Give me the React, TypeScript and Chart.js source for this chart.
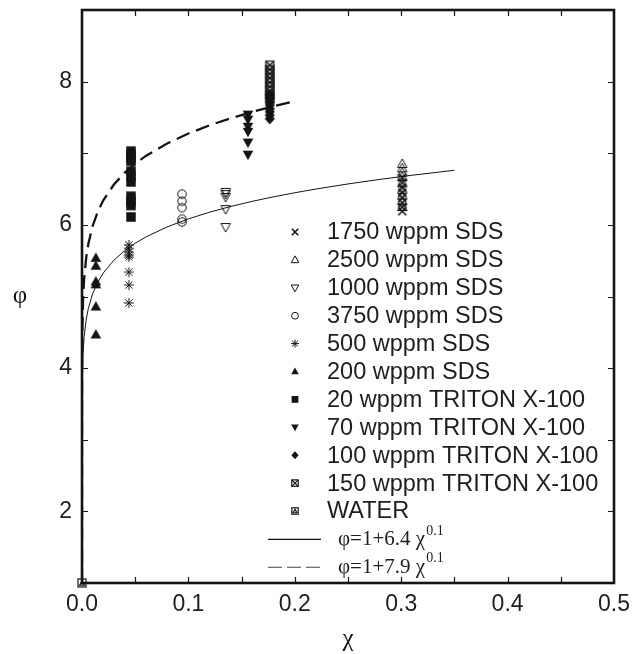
import React, { useEffect, useRef } from 'react';
import { Chart, registerables } from 'chart.js';

Chart.register(...registerables);

// ---- data ----
const CHI_1750 = 0.301;
const PHI_1750 = [6.66, 6.59, 6.52, 6.45, 6.38, 6.31, 6.25, 6.19];
const CHI_2500 = 0.301;
const PHI_2500 = [6.85, 6.79, 6.73, 6.67, 6.58, 6.49, 6.41, 6.33, 6.25];
const CHI_1000 = 0.135;
const PHI_1000 = [6.46, 6.43, 6.39, 6.22, 5.97];
const CHI_3750 = 0.094;
const PHI_3750 = [6.43, 6.33, 6.24, 6.08, 6.04];
const CHI_500 = 0.044;
const PHI_500 = [5.72, 5.67, 5.62, 5.58, 5.55, 5.34, 5.16, 4.91];
const CHI_200 = 0.013;
const PHI_200 = [5.54, 5.43, 5.21, 5.17, 4.86, 4.47];
const CHI_T20 = 0.046;
const PHI_T20 = [7.03, 6.98, 6.93, 6.89, 6.75, 6.68, 6.6, 6.4, 6.33, 6.27, 6.11];
const CHI_T70 = 0.156;
const PHI_T70 = [7.54, 7.47, 7.37, 7.3, 7.15, 6.98];
const CHI_T100 = 0.1765;
const PHI_T100 = [7.82, 7.77, 7.72, 7.67, 7.62, 7.58, 7.53, 7.48];
const CHI_T150 = 0.1765;
const PHI_T150 = [8.23, 8.17, 8.11, 8.05, 7.99, 7.93, 7.87, 7.81, 7.75];
const CHI_WATER = [0];
const PHI_WATER = [1.0];

// fitted curves phi = 1 + a * chi^0.1 (as printed in the legend)
const FIT_EXP = 0.1;
const FIT_A_SDS = 6.4;
const FIT_A_TRITON = 7.9;
const CHI_GRID_SDS = [0, 1e-10, 1e-8, 1e-6, 1e-5, 5e-5, 1e-4, 3e-4, 1e-3, 2e-3, 4e-3, 6e-3, 0.01, 0.015, 0.02, 0.03, 0.04, 0.05, 0.06, 0.08, 0.1, 0.12, 0.14, 0.16, 0.18, 0.2, 0.22, 0.25, 0.28, 0.31, 0.35];
const CHI_GRID_TRITON = [0, 1e-10, 1e-8, 1e-6, 1e-5, 5e-5, 1e-4, 3e-4, 1e-3, 2e-3, 4e-3, 6e-3, 0.01, 0.015, 0.02, 0.03, 0.04, 0.05, 0.06, 0.08, 0.1, 0.12, 0.14, 0.16, 0.18, 0.2];

const LEGEND_LABELS = [
  '1750 wppm SDS',
  '2500 wppm SDS',
  '1000 wppm SDS',
  '3750 wppm SDS',
  '500 wppm SDS',
  '200 wppm SDS',
  '20 wppm TRITON X-100',
  '70 wppm TRITON X-100',
  '100 wppm TRITON X-100',
  '150 wppm TRITON X-100',
  'WATER',
];
const LEGEND_MARKERS = ['cross', 'triUp', 'triDown', 'circle', 'star', 'triUpFill', 'square', 'triDownFill', 'diamond', 'boxX', 'water'];
const FIT_LABELS = [
  { lead: 'φ=1+6.4 χ', sup: '0.1' },
  { lead: 'φ=1+7.9 χ', sup: '0.1' },
];

const X_TICKS_MINOR = [0.05, 0.1, 0.15, 0.2, 0.25, 0.3, 0.35, 0.4, 0.45];
const Y_TICKS_MINOR = [2, 3, 4, 5, 6, 7, 8];

const INK = '#141414';

function drawShape(ctx: CanvasRenderingContext2D, type: string, r: number) {
  ctx.strokeStyle = INK;
  ctx.fillStyle = INK;
  ctx.lineWidth = 1;
  ctx.beginPath();
  switch (type) {
    case 'cross': {
      const a = r * 0.8;
      ctx.lineWidth = 1.6;
      ctx.moveTo(-a, -a); ctx.lineTo(a, a);
      ctx.moveTo(-a, a); ctx.lineTo(a, -a);
      ctx.stroke();
      break;
    }
    case 'triUp':
    case 'triUpFill': {
      ctx.moveTo(0, -r); ctx.lineTo(r * 0.95, r * 0.7); ctx.lineTo(-r * 0.95, r * 0.7); ctx.closePath();
      if (type === 'triUpFill') ctx.fill(); else ctx.stroke();
      break;
    }
    case 'triDown':
    case 'triDownFill': {
      ctx.moveTo(0, r); ctx.lineTo(r * 0.95, -r * 0.7); ctx.lineTo(-r * 0.95, -r * 0.7); ctx.closePath();
      if (type === 'triDownFill') ctx.fill(); else ctx.stroke();
      break;
    }
    case 'circle': {
      ctx.arc(0, 0, r * 0.85, 0, Math.PI * 2);
      ctx.stroke();
      break;
    }
    case 'star': {
      const d = r * 0.72;
      ctx.moveTo(0, -r); ctx.lineTo(0, r);
      ctx.moveTo(-r, 0); ctx.lineTo(r, 0);
      ctx.moveTo(-d, -d); ctx.lineTo(d, d);
      ctx.moveTo(-d, d); ctx.lineTo(d, -d);
      ctx.stroke();
      break;
    }
    case 'square': {
      const a = r * 0.85;
      ctx.fillRect(-a, -a, 2 * a, 2 * a);
      break;
    }
    case 'diamond': {
      ctx.moveTo(0, -r); ctx.lineTo(r * 0.9, 0); ctx.lineTo(0, r); ctx.lineTo(-r * 0.9, 0); ctx.closePath();
      ctx.fill();
      break;
    }
    case 'boxX': {
      const a = r * 0.8;
      ctx.lineWidth = 1.2;
      ctx.strokeRect(-a, -a, 2 * a, 2 * a);
      ctx.moveTo(-a, -a); ctx.lineTo(a, a);
      ctx.moveTo(-a, a); ctx.lineTo(a, -a);
      ctx.stroke();
      break;
    }
    case 'water': {
      const a = r * 0.8;
      ctx.lineWidth = 1.2;
      ctx.strokeRect(-a, -a, 2 * a, 2 * a);
      ctx.beginPath();
      ctx.moveTo(-a * 0.6, a * 0.55); ctx.lineTo(0, -a * 0.55); ctx.lineTo(a * 0.6, a * 0.55); ctx.closePath();
      ctx.stroke();
      break;
    }
  }
}

function makeMarker(type: string, r: number): HTMLCanvasElement {
  const s = Math.ceil(2 * r + 4);
  const c = document.createElement('canvas');
  c.width = s;
  c.height = s;
  const ctx = c.getContext('2d') as CanvasRenderingContext2D;
  ctx.translate(s / 2, s / 2);
  drawShape(ctx, type, r);
  return c;
}

const framePlugin = {
  id: 'frameTicks',
  beforeDatasetsDraw(chart: any) {
    const { ctx, chartArea: a, scales } = chart;
    const xs = scales.x;
    const ys = scales.y;
    ctx.save();
    ctx.strokeStyle = INK;
    ctx.lineWidth = 1.2;
    const tl = 6;
    ctx.beginPath();
    for (const v of X_TICKS_MINOR) {
      const px = Math.round(xs.getPixelForValue(v)) + 0.5;
      ctx.moveTo(px, a.bottom); ctx.lineTo(px, a.bottom - tl);
      ctx.moveTo(px, a.top); ctx.lineTo(px, a.top + tl);
    }
    for (const v of Y_TICKS_MINOR) {
      const py = Math.round(ys.getPixelForValue(v)) + 0.5;
      ctx.moveTo(a.left, py); ctx.lineTo(a.left + tl, py);
      ctx.moveTo(a.right, py); ctx.lineTo(a.right - tl, py);
    }
    ctx.stroke();
    ctx.lineWidth = 2.6;
    ctx.strokeRect(a.left, a.top, a.right - a.left, a.bottom - a.top);
    ctx.restore();
  },
  afterDraw(chart: any) {
    const { ctx, chartArea: a } = chart;
    ctx.save();
    // axis titles
    ctx.fillStyle = INK;
    ctx.font = '25px "Liberation Serif", "DejaVu Serif", serif';
    ctx.textAlign = 'center';
    ctx.textBaseline = 'middle';
    ctx.fillText('φ', 20, (a.top + a.bottom) / 2);
    ctx.fillText('χ', (a.left + a.right) / 2, 639);

    // legend
    const symX = 295;
    const textX = 327;
    const y0 = 232;
    const dy = 27.9;
    ctx.textAlign = 'left';
    ctx.font = '23.5px "Liberation Sans", Arial, sans-serif';
    LEGEND_LABELS.forEach((lab, i) => {
      const y = y0 + i * dy;
      ctx.save();
      ctx.translate(symX, y);
      drawShape(ctx, LEGEND_MARKERS[i], 4);
      ctx.restore();
      ctx.fillStyle = '#1e1e1e';
      ctx.fillText(lab, textX, y + 1);
    });
    FIT_LABELS.forEach((f, j) => {
      const y = y0 + (LEGEND_LABELS.length + j) * dy;
      ctx.save();
      ctx.strokeStyle = j === 0 ? INK : '#444';
      ctx.lineWidth = 1.1;
      if (j === 1) ctx.setLineDash([14, 5]);
      ctx.beginPath();
      ctx.moveTo(268, y + 0.5); ctx.lineTo(321, y + 0.5);
      ctx.stroke();
      ctx.restore();
      ctx.fillStyle = '#1e1e1e';
      ctx.font = '21px "Liberation Serif", "DejaVu Serif", serif';
      ctx.fillText(f.lead, 338, y + 1);
      const w = ctx.measureText(f.lead).width;
      ctx.font = '14px "Liberation Serif", "DejaVu Serif", serif';
      ctx.fillText(f.sup, 338 + w + 1, y - 8);
    });
    ctx.restore();
  },
};

function seriesPoints(chi: number, phis: number[]) {
  return phis.map((p) => ({ x: chi, y: p }));
}

export default function App() {
  const ref = useRef<HTMLCanvasElement | null>(null);
  useEffect(() => {
    if (!ref.current) return;
    const R = 5;
    const RF = 5.6;
    const mk = (t: string, r = R) => makeMarker(t, r);
    const pt = (label: string, data: any[], style: any) => ({
      type: 'scatter' as const,
      label,
      data,
      pointStyle: style,
      pointRadius: R,
      showLine: false,
      clip: false as any,
    });
    const fit = (a: number, grid: number[]) => grid.map((c) => ({ x: c, y: 1 + a * Math.pow(c, FIT_EXP) }));
    const chart = new Chart(ref.current, {
      type: 'scatter',
      data: {
        datasets: [
          {
            type: 'scatter' as const,
            label: 'fit SDS',
            data: fit(FIT_A_SDS, CHI_GRID_SDS),
            showLine: true,
            pointRadius: 0,
            borderColor: INK,
            borderWidth: 1,
            tension: 0,
          } as any,
          {
            type: 'scatter' as const,
            label: 'fit TRITON',
            data: fit(FIT_A_TRITON, CHI_GRID_TRITON),
            showLine: true,
            pointRadius: 0,
            borderColor: INK,
            borderWidth: 2.3,
            borderDash: [14, 7],
            tension: 0,
          } as any,
          pt(LEGEND_LABELS[0], seriesPoints(CHI_1750, PHI_1750), mk('cross')),
          pt(LEGEND_LABELS[1], seriesPoints(CHI_2500, PHI_2500), mk('triUp')),
          pt(LEGEND_LABELS[2], seriesPoints(CHI_1000, PHI_1000), mk('triDown')),
          pt(LEGEND_LABELS[3], seriesPoints(CHI_3750, PHI_3750), mk('circle')),
          pt(LEGEND_LABELS[4], seriesPoints(CHI_500, PHI_500), mk('star')),
          pt(LEGEND_LABELS[5], seriesPoints(CHI_200, PHI_200), mk('triUpFill', RF)),
          pt(LEGEND_LABELS[6], seriesPoints(CHI_T20, PHI_T20), mk('square', RF)),
          pt(LEGEND_LABELS[7], seriesPoints(CHI_T70, PHI_T70), mk('triDownFill', RF)),
          pt(LEGEND_LABELS[8], seriesPoints(CHI_T100, PHI_T100), mk('diamond', RF)),
          pt(LEGEND_LABELS[9], seriesPoints(CHI_T150, PHI_T150), mk('boxX')),
          pt(LEGEND_LABELS[10], CHI_WATER.map((c, i) => ({ x: c, y: PHI_WATER[i] })), mk('water')),
        ] as any,
      },
      options: {
        animation: false,
        responsive: false,
        maintainAspectRatio: false,
        layout: { padding: { left: 0, right: 24, top: 10, bottom: 0 } },
        plugins: { legend: { display: false }, tooltip: { enabled: false } },
        scales: {
          x: {
            type: 'linear',
            min: 0,
            max: 0.5,
            grid: { display: false, drawTicks: false },
            border: { display: false },
            ticks: {
              stepSize: 0.1,
              padding: 8,
              color: '#1e1e1e',
              font: { family: '"Liberation Sans", Arial, sans-serif', size: 23 },
              callback: (v: any) => Number(v).toFixed(1),
              maxRotation: 0,
            },
            afterFit: (s: any) => { s.height = 71; s.paddingLeft = 0; s.paddingRight = 0; },
          },
          y: {
            type: 'linear',
            min: 1,
            max: 9,
            grid: { display: false, drawTicks: false },
            border: { display: false },
            ticks: {
              stepSize: 1,
              padding: 10,
              color: '#1e1e1e',
              font: { family: '"Liberation Sans", Arial, sans-serif', size: 23 },
              callback: (v: any) => (Math.round(v) % 2 === 0 ? String(Math.round(v)) : ''),
            },
            afterFit: (s: any) => { s.width = 82; s.paddingTop = 0; s.paddingBottom = 0; },
          },
        },
      } as any,
      plugins: [framePlugin],
    });
    return () => chart.destroy();
  }, []);
  return (
    <div style={{ position: 'fixed', left: 0, top: 0, width: 638, height: 654, background: '#fff' }}>
      <canvas ref={ref} width={638} height={654} style={{ display: 'block', width: 638, height: 654 }} />
    </div>
  );
}
